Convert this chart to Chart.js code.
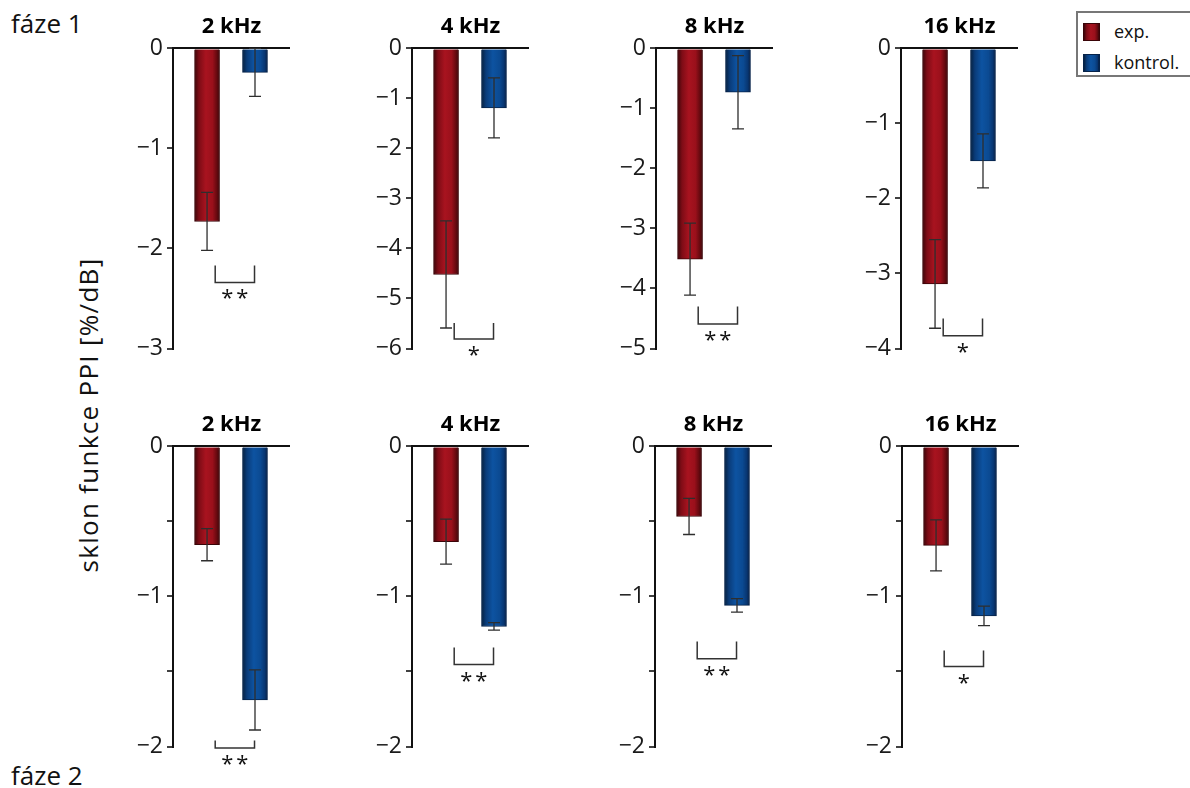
<!DOCTYPE html>
<html>
<head>
<meta charset="utf-8">
<script src="https://cdn.jsdelivr.net/npm/chart.js@4.4.0/dist/chart.umd.min.js"></script>
<style>
  body { margin: 0; background: #fff; width: 1190px; height: 788px; overflow: hidden; position: relative; font-family: "Open Sans", sans-serif; color: #111; }
  canvas { position: absolute; }
  .phase { position: absolute; left: 11px; font-size: 26px; line-height: 1; }
  #ylabel { position: absolute; left: 88px; top: 415px; transform: translate(-50%, -50%) rotate(-90deg); font-size: 26px; letter-spacing: 1.3px; white-space: nowrap; }
  #legend { position: absolute; left: 1076px; top: 11px; width: 140px; height: 66px; border: 2px solid #777; box-sizing: border-box; }
  #legend .sw { position: absolute; left: 5px; width: 17px; height: 18px; box-sizing: border-box; }
  #legend .txt { position: absolute; left: 36px; font-size: 18px; line-height: 1; }
  .red { background: linear-gradient(to right, #3c0509, #7e0c16 18%, #a8131f 45%, #9a101b 72%, #64090f 90%, #3c0509); border: 1px solid #3a0408; }
  .blue { background: linear-gradient(to right, #05203f, #0a3c7a 18%, #0d53a1 45%, #0b4a92 72%, #083570 90%, #051c40); border: 1px solid #06234a; }
</style>
</head>
<body>
<div class="phase" style="top:10px">fáze 1</div>
<div class="phase" style="top:762px">fáze 2</div>
<div id="ylabel">sklon funkce PPI [%/dB]</div>
<div id="legend">
  <div class="sw red" style="top:10px"></div><div class="txt" style="top:9px">exp.</div>
  <div class="sw blue" style="top:41px"></div><div class="txt" style="top:40px">kontrol.</div>
</div>

<canvas id="a1" width="200" height="370" style="left:123px;top:10px"></canvas>
<canvas id="a2" width="200" height="370" style="left:362px;top:10px"></canvas>
<canvas id="a3" width="200" height="370" style="left:606px;top:10px"></canvas>
<canvas id="a4" width="200" height="370" style="left:851px;top:10px"></canvas>
<canvas id="b1" width="200" height="380" style="left:123px;top:408px"></canvas>
<canvas id="b2" width="200" height="380" style="left:362px;top:408px"></canvas>
<canvas id="b3" width="200" height="380" style="left:605px;top:408px"></canvas>
<canvas id="b4" width="200" height="380" style="left:852px;top:408px"></canvas>

<script>
const freqLabels = ['2 kHz', '4 kHz', '8 kHz', '16 kHz'];
const groups = ['exp.', 'kontrol.'];

// fáze 1
const expPhase1 = [-1.73, -4.52, -3.51, -3.14];
const expErrPhase1 = [0.29, 1.07, 0.60, 0.59];
const ctrlPhase1 = [-0.24, -1.19, -0.73, -1.50];
const ctrlErrPhase1 = [0.24, 0.60, 0.61, 0.36];
const sigPhase1 = ['**', '*', '**', '*'];
const yMinPhase1 = [-3, -6, -5, -4];

// fáze 2
const expPhase2 = [-0.655, -0.635, -0.467, -0.66];
const expErrPhase2 = [0.107, 0.15, 0.12, 0.17];
const ctrlPhase2 = [-1.69, -1.20, -1.06, -1.13];
const ctrlErrPhase2 = [0.20, 0.025, 0.045, 0.065];
const sigPhase2 = ['**', '**', '**', '*'];
const yMinPhase2 = [-2, -2, -2, -2];

// bracket top/bottom in axis units
const bracketPhase1 = [[-2.17, -2.34], [-5.49, -5.81], [-4.30, -4.59], [-3.60, -3.83]];
const bracketPhase2 = [[-1.96, -2.01], [-1.34, -1.454], [-1.30, -1.415], [-1.36, -1.467]];

const redStops = [[0, '#3c0509'], [0.18, '#7e0c16'], [0.45, '#a8131f'], [0.72, '#9a101b'], [0.9, '#64090f'], [1, '#3c0509']];
const blueStops = [[0, '#05203f'], [0.18, '#0a3c7a'], [0.45, '#0d53a1'], [0.72, '#0b4a92'], [0.9, '#083570'], [1, '#051c40']];
const BAR_W = 25;

function barFill(ctx) {
  const chart = ctx.chart;
  const stops = ctx.dataIndex === 0 ? redStops : blueStops;
  const xs = chart.scales.x;
  if (!chart.chartArea || !xs) return stops[2][1];
  const cx = xs.getPixelForValue(ctx.dataIndex + 1);
  const g = chart.ctx.createLinearGradient(cx - BAR_W / 2, 0, cx + BAR_W / 2, 0);
  stops.forEach(s => g.addColorStop(s[0], s[1]));
  return g;
}

const errorBars = {
  id: 'errorBars',
  afterDatasetsDraw(chart) {
    const ds = chart.data.datasets[0];
    const meta = chart.getDatasetMeta(0);
    const ys = chart.scales.y;
    const c = chart.ctx;
    c.save();
    c.strokeStyle = '#2e2e2e';
    c.lineWidth = 1.3;
    meta.data.forEach((bar, i) => {
      const v = ds.data[i].y, e = ds.errors[i];
      const top = ys.getPixelForValue(v + e);
      const bot = ys.getPixelForValue(v - e);
      c.beginPath();
      c.moveTo(bar.x, top); c.lineTo(bar.x, bot);
      c.moveTo(bar.x - 6, top); c.lineTo(bar.x + 6, top);
      c.moveTo(bar.x - 6, bot); c.lineTo(bar.x + 6, bot);
      c.stroke();
    });
    c.restore();
  }
};

function sigBracket(level, stars) {
  return {
    id: 'sigBracket',
    afterDraw(chart) {
      const xs = chart.scales.x, ys = chart.scales.y;
      const c = chart.ctx;
      const x1 = xs.getPixelForValue(1.17), x2 = xs.getPixelForValue(1.99);
      const yTop = ys.getPixelForValue(level[0]), yBot = ys.getPixelForValue(level[1]);
      c.save();
      c.strokeStyle = '#333';
      c.lineWidth = 1.5;
      c.beginPath();
      c.moveTo(x1, yTop); c.lineTo(x1, yBot); c.lineTo(x2, yBot); c.lineTo(x2, yTop);
      c.stroke();
      c.fillStyle = '#111';
      c.font = '22px "Open Sans"';
      c.textAlign = 'center';
      c.textBaseline = 'alphabetic';
      const mid = (x1 + x2) / 2;
      const n = stars.length;
      for (let k = 0; k < n; k++) {
        c.fillText('*', mid + (k - (n - 1) / 2) * 15, yBot + 23);
      }
      c.restore();
    }
  };
}

function tickText(v) {
  if (v === 0) return '0';
  if (!Number.isInteger(v)) return '';
  return '\u2212' + Math.abs(v);
}

function makePanel(id, title, exp, expErr, ctrl, ctrlErr, yMin, step, level, stars, padBottom) {
  return new Chart(document.getElementById(id).getContext('2d'), {
    type: 'bar',
    data: {
      labels: groups,
      datasets: [{
        data: [{ x: 1, y: exp }, { x: 2, y: ctrl }],
        errors: [expErr, ctrlErr],
        backgroundColor: barFill,
        borderColor: ctx => ctx.dataIndex === 0 ? '#3a0408' : '#06234a',
        borderWidth: 1,
        barThickness: BAR_W
      }]
    },
    options: {
      responsive: false,
      animation: false,
      events: [],
      layout: { padding: { top: 4, right: 33, bottom: padBottom, left: 0 } },
      scales: {
        x: { type: 'linear', display: false, offset: false, min: 0.29, max: 2.73 },
        y: {
          min: yMin,
          max: 0,
          afterFit: s => { s.width = 50; },
          border: { color: '#111', width: 2 },
          grid: {
            color: c => (c.tick && c.tick.value === 0) ? '#111' : 'rgba(0,0,0,0)',
            lineWidth: 2,
            tickColor: '#111',
            tickLength: 6,
            tickWidth: 1.6
          },
          ticks: {
            stepSize: step,
            callback: tickText,
            color: '#1a1a1a',
            padding: 4,
            font: { family: '"Open Sans"', size: 23 }
          }
        }
      },
      plugins: {
        legend: { display: false },
        tooltip: { enabled: false },
        title: {
          display: true,
          fullSize: false,
          text: title,
          color: '#000',
          font: { family: '"Open Sans"', size: 22, weight: 'bold' },
          padding: { top: 0, bottom: 8 }
        }
      }
    },
    plugins: [errorBars, sigBracket(level, stars)]
  });
}

const topIds = ['a1', 'a2', 'a3', 'a4'];
const botIds = ['b1', 'b2', 'b3', 'b4'];
freqLabels.forEach((f, i) => {
  makePanel(topIds[i], f, expPhase1[i], expErrPhase1[i], ctrlPhase1[i], ctrlErrPhase1[i],
    yMinPhase1[i], 1, bracketPhase1[i], sigPhase1[i], 31.5);
  makePanel(botIds[i], f, expPhase2[i], expErrPhase2[i], ctrlPhase2[i], ctrlErrPhase2[i],
    yMinPhase2[i], 0.5, bracketPhase2[i], sigPhase2[i], 41.5);
});
</script>
</body>
</html>
